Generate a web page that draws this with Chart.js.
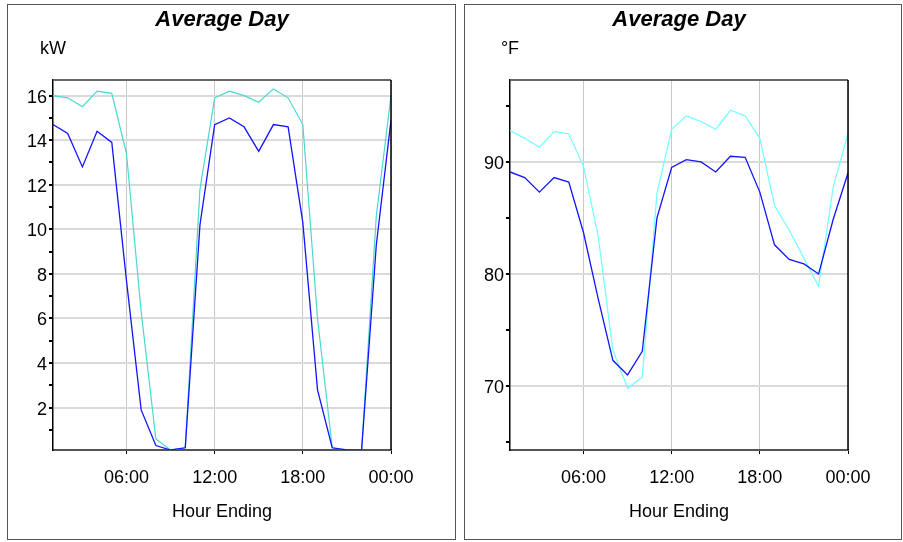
<!DOCTYPE html>
<html>
<head>
<meta charset="utf-8">
<script src="https://cdn.jsdelivr.net/npm/chart.js@4/dist/chart.umd.min.js"></script>
<style>
    body { margin: 0; background: #ffffff; }
    .panel { position: absolute; top: 4px; height: 534px; border: 1px solid #555555; }
    #leftPanel { left: 7px; width: 447px; }
    #rightPanel { left: 464px; width: 436px; }
    canvas { display: block; }
</style>
</head>
<body>
<div class="panel" id="leftPanel"><canvas id="kwChart" width="447" height="534"></canvas></div>
<div class="panel" id="rightPanel"><canvas id="tempChart" width="436" height="534"></canvas></div>
<script>
// hour ending 1..24
const hours = [1, 2, 3, 4, 5, 6, 7, 8, 9, 10, 11, 12, 13, 14, 15, 16, 17, 18, 19, 20, 21, 22, 23, 24]

const kwBlue = [14.7, 14.3, 12.8, 14.4, 13.9, 7.7, 1.9, 0.3, 0.1, 0.2, 10.2, 14.7,
    15.0, 14.6, 13.5, 14.7, 14.6, 10.3, 2.8, 0.2, 0.1, 0.1, 9.3, 14.9]
const kwCyan = [16.0, 15.9, 15.5, 16.2, 16.1, 13.4, 6.3, 0.6, 0.1, 0.2, 11.8, 15.9,
    16.2, 16.0, 15.7, 16.3, 15.9, 14.7, 6.0, 0.2, 0.1, 0.1, 10.6, 16.0]

const tempBlue = [89.1, 88.6, 87.3, 88.6, 88.2, 83.7, 77.8, 72.3, 71.0, 73.1, 85.0, 89.5,
    90.2, 90.0, 89.1, 90.5, 90.4, 87.3, 82.6, 81.3, 80.9, 80.0, 84.9, 89.0]
const tempCyan = [92.8, 92.1, 91.3, 92.7, 92.5, 89.6, 83.4, 73.2, 69.8, 70.8, 87.2, 92.9,
    94.1, 93.6, 92.9, 94.6, 94.1, 92.1, 86.1, 83.9, 81.4, 78.9, 87.8, 92.5]

const hourTicks = [6, 12, 18, 24]
const hourLabels = ["06:00", "12:00", "18:00", "00:00"]
const kwTicks = [1, 2, 3, 4, 5, 6, 7, 8, 9, 10, 11, 12, 13, 14, 15, 16]
const tempTicks = [65, 70, 75, 80, 85, 90, 95]

const fontFamily = "'Liberation Sans', Arial, sans-serif"

// unit text sits above the y axis line
const unitLabelPlugin = {
    id: 'unitLabel',
    afterDraw(chart, args, opts) {
        const ctx = chart.ctx
        ctx.save()
        ctx.font = `18px ${fontFamily}`
        ctx.fillStyle = '#000000'
        ctx.textAlign = 'center'
        ctx.textBaseline = 'middle'
        ctx.fillText(opts.text, chart.chartArea.left, 44)
        ctx.restore()
    }
}

// top and right edges of the plot box
const framePlugin = {
    id: 'frame',
    afterDraw(chart) {
        const {left, right, top, bottom} = chart.chartArea
        const ctx = chart.ctx
        ctx.save()
        ctx.strokeStyle = '#666666'
        ctx.lineWidth = 2
        ctx.beginPath()
        ctx.moveTo(left, top)
        ctx.lineTo(right, top)
        ctx.stroke()
        ctx.strokeStyle = '#000000'
        ctx.lineWidth = 1.5
        ctx.beginPath()
        ctx.moveTo(right, top)
        ctx.lineTo(right, bottom)
        ctx.stroke()
        ctx.restore()
    }
}

const getLineChartConfig = (blueData, cyanData, cyanColor, yMin, yMax, yTicks, labelStep, unit, rightPad) => {
    return {
        type: 'line',
        data: {
            labels: hours,
            datasets: [{
                data: blueData,
                borderColor: '#1414ff',
                borderWidth: 1.3,
                pointRadius: 0,
                tension: 0
            }, {
                data: cyanData,
                borderColor: cyanColor,
                borderWidth: 1.2,
                pointRadius: 0,
                tension: 0
            }]
        },
        options: {
            responsive: false,
            animation: false,
            events: [],
            layout: {
                padding: {left: 0, right: rightPad, top: 0, bottom: 0}
            },
            scales: {
                x: {
                    type: 'linear',
                    min: 1,
                    max: 24,
                    afterBuildTicks: (scale) => {
                        scale.ticks = hourTicks.map((v) => ({value: v}))
                    },
                    afterFit: (scale) => {
                        scale.height = 89
                    },
                    grid: {
                        color: '#c8c8c8',
                        lineWidth: 1,
                        tickColor: '#000000',
                        tickLength: 4
                    },
                    border: {
                        color: '#555555',
                        width: 2
                    },
                    ticks: {
                        autoSkip: false,
                        maxRotation: 0,
                        padding: 13,
                        color: '#000000',
                        font: {size: 18, family: fontFamily},
                        callback: (value) => hourLabels[hourTicks.indexOf(value)]
                    },
                    title: {
                        display: true,
                        text: 'Hour Ending',
                        color: '#000000',
                        font: {size: 18, family: fontFamily},
                        padding: {top: 0, bottom: 16}
                    }
                },
                y: {
                    min: yMin,
                    max: yMax,
                    afterBuildTicks: (scale) => {
                        scale.ticks = yTicks.map((v) => ({value: v}))
                    },
                    afterFit: (scale) => {
                        scale.width = 45
                    },
                    grid: {
                        color: (ctx) => ctx.tick && ctx.tick.value % labelStep === 0 ? '#dadada' : 'rgba(0,0,0,0)',
                        lineWidth: 2,
                        tickColor: '#000000',
                        tickLength: 4
                    },
                    border: {
                        color: '#000000',
                        width: 1.5
                    },
                    ticks: {
                        autoSkip: false,
                        padding: 2,
                        labelOffset: 2,
                        color: '#000000',
                        font: {size: 18, family: fontFamily},
                        callback: (value) => value % labelStep === 0 ? String(value) : ''
                    }
                }
            },
            plugins: {
                legend: {display: false},
                tooltip: {enabled: false},
                title: {
                    display: true,
                    fullSize: false,
                    text: 'Average Day',
                    color: '#000000',
                    font: {size: 22, weight: 'bold', style: 'italic', family: fontFamily},
                    padding: {top: 2, bottom: 46.6}
                },
                unitLabel: {text: unit}
            }
        },
        plugins: [unitLabelPlugin, framePlugin]
    }
}

new Chart(document.getElementById('kwChart'),
    getLineChartConfig(kwBlue, kwCyan, '#48d8d0', 0.1, 16.7, kwTicks, 2, 'kW', 64))

new Chart(document.getElementById('tempChart'),
    getLineChartConfig(tempBlue, tempCyan, '#70ffff', 64.3, 97.3, tempTicks, 10, '°F', 53))
</script>
</body>
</html>
